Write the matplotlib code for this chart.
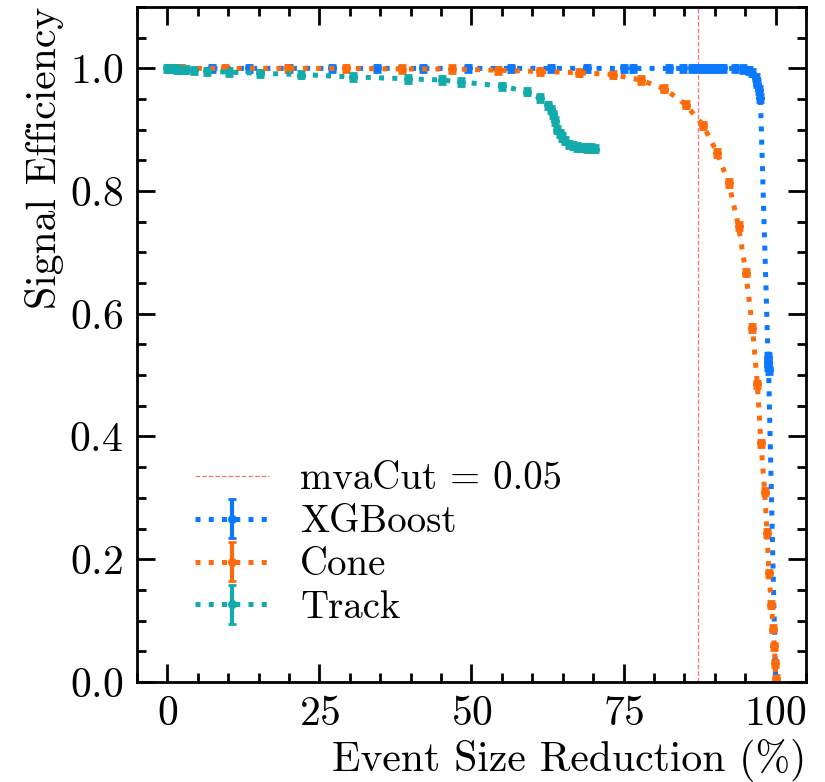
import matplotlib
matplotlib.use("Agg")
import matplotlib.pyplot as plt
from matplotlib.ticker import MultipleLocator

plt.rcParams['font.family'] = 'serif'
plt.rcParams['font.serif'] = ['cmr10']
plt.rcParams['mathtext.fontset'] = 'cm'
plt.rcParams['axes.formatter.use_mathtext'] = True
plt.rcParams['axes.unicode_minus'] = False

# event size reduction (%) and signal efficiency
xgb_x = [7.4, 13.5, 20.0, 27.0, 34.5, 42.0, 49.5, 56.5, 63.0, 69.0, 75.0, 76.6,
         82.4, 84.8, 86.3, 87.2, 88.1, 89.0, 89.8, 90.6, 91.3, 93.4, 94.7, 95.6,
         96.2, 96.7, 97.0, 97.2, 97.5, 98.75, 98.8, 98.82, 98.85, 100.0]
xgb_y = [1.0, 1.0, 1.0, 1.0, 1.0, 1.0, 1.0, 1.0, 1.0, 1.0, 1.0, 1.0,
         1.0, 1.0, 1.0, 1.0, 1.0, 1.0, 1.0, 1.0, 1.0, 1.0, 0.999, 0.997,
         0.993, 0.985, 0.975, 0.965, 0.952, 0.530, 0.522, 0.515, 0.508, 0.0]

cone_x = [0.5, 2.3, 9.4, 19.8, 29.4, 38.5, 46.8, 54.4, 61.3, 67.7, 73.2, 77.8,
          81.7, 85.2, 88.1, 90.4, 92.3, 93.9, 95.1, 96.2, 97.0, 97.6, 98.2, 98.6,
          98.9, 99.3, 99.6, 99.8, 99.95, 100.0]
cone_y = [1.0, 1.0, 1.0, 1.0, 1.0, 0.999, 0.999, 0.997, 0.995, 0.993, 0.990, 0.981,
          0.967, 0.941, 0.907, 0.862, 0.813, 0.743, 0.667, 0.577, 0.485, 0.389, 0.310, 0.243,
          0.177, 0.126, 0.087, 0.058, 0.030, 0.005]

track_x = [0.0, 0.5, 1.0, 1.6, 2.2, 3.0, 4.4, 6.5, 10.2, 15.2, 22.0, 30.5, 39.6,
           45.1, 48.3, 55.0, 59.2, 61.2, 62.5, 63.0, 63.4, 63.8, 64.1, 64.5, 64.8,
           65.3, 66.0, 66.7, 67.3, 68.1, 69.0, 69.7, 70.3]
track_y = [1.0, 1.0, 1.0, 0.999, 0.999, 0.998, 0.997, 0.995, 0.994, 0.992, 0.990, 0.986, 0.983,
           0.981, 0.978, 0.971, 0.962, 0.952, 0.940, 0.933, 0.925, 0.914, 0.900, 0.894, 0.888,
           0.882, 0.876, 0.874, 0.872, 0.871, 0.870, 0.870, 0.869]

eff_err = 0.006
mva_cut_x = 87.2

fig = plt.figure(figsize=(8.25, 7.82), dpi=100)
ax = fig.add_axes([0.166, 0.128, 0.811, 0.863])

ax.axvline(mva_cut_x, color='#ff7070', lw=0.9, ls='--', label='mvaCut = 0.05')
series = [(xgb_x, xgb_y, '#0a78ff', 'XGBoost'),
          (cone_x, cone_y, '#ff6a0a', 'Cone'),
          (track_x, track_y, '#12abab', 'Track')]
for x, y, c, name in series:
    ax.errorbar(x, y, yerr=eff_err, fmt='o', ls=':', lw=3.6, ms=5.5, color=c,
                elinewidth=3, capsize=3, capthick=2, label=name)

ax.set_xlim(-5, 105)
ax.set_ylim(0, 1.1)
ax.xaxis.set_major_locator(MultipleLocator(25))
ax.xaxis.set_minor_locator(MultipleLocator(5))
ax.yaxis.set_major_locator(MultipleLocator(0.2))
ax.yaxis.set_minor_locator(MultipleLocator(0.05))
ax.tick_params(which='both', direction='in', top=True, right=True, width=2, labelsize=30, pad=10)
ax.tick_params(which='major', length=13)
ax.tick_params(which='minor', length=6.5)
for s in ax.spines.values():
    s.set_linewidth(2)

ax.set_xlabel('Event Size Reduction (%)', fontsize=30, loc='right')
ax.set_ylabel('Signal Efficiency', fontsize=30, loc='top')
ax.legend(loc='lower left', bbox_to_anchor=(0.035, 0.031), frameon=False, fontsize=28,
          handlelength=1.9, labelspacing=0.18)

fig.savefig('out.png', dpi=100)
